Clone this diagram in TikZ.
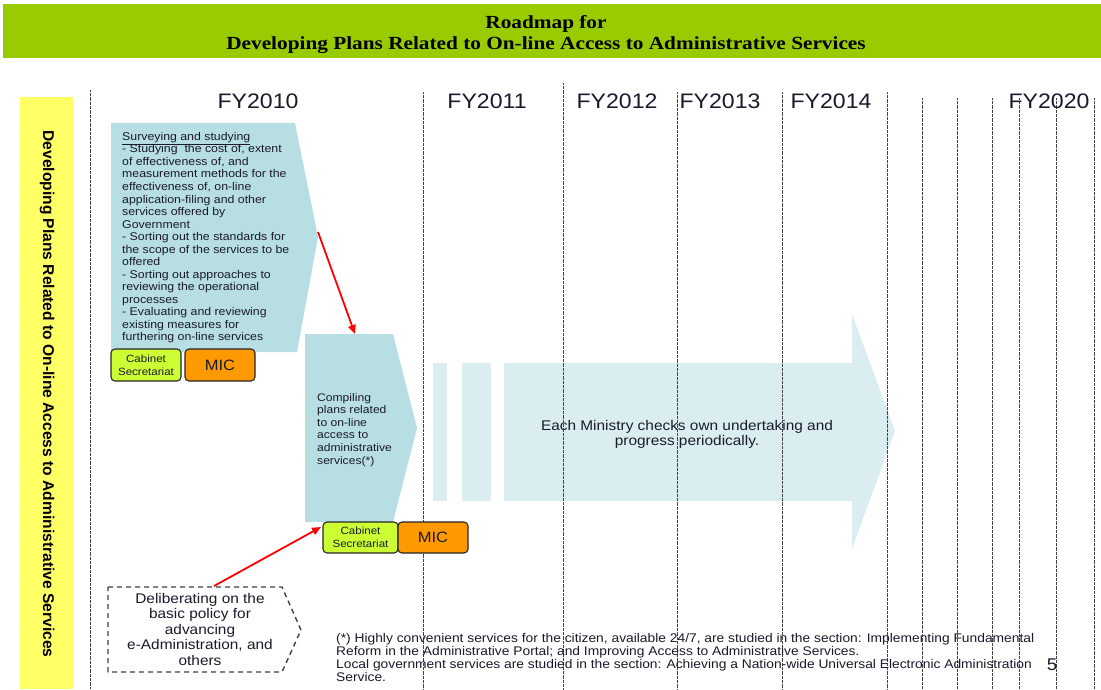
\documentclass[tikz,border=0pt]{standalone}
\usepackage{fontspec}
\setmainfont[FakeStretch=1.1]{Liberation Sans}
\newfontfamily\titlefont[FakeStretch=1.15]{Liberation Serif}
\newfontfamily\sidefont{Liberation Sans}
\usetikzlibrary{arrows.meta}
\definecolor{banner}{HTML}{99CC00}
\definecolor{sidebar}{HTML}{FFFF66}
\definecolor{boxblue}{HTML}{B7DEE3}
\definecolor{paleblue}{HTML}{DAEEF2}
\definecolor{cabgreen}{HTML}{CCFF33}
\definecolor{micorange}{HTML}{FF9900}
\definecolor{txt}{HTML}{1A1A2A}
\definecolor{vlinecol}{HTML}{444444}
\tikzset{
  vline/.style={draw=vlinecol, line width=0.9pt, dash pattern=on 0.7pt off 0.6pt},
  bluebox/.style={fill=boxblue, draw=none},
  palebox/.style={fill=paleblue, draw=none},
  agency/.style={draw=black!85, line width=1.1pt, rounded corners=4pt},
  redarrow/.style={draw=red, line width=1.8pt, -{Triangle[length=9pt,width=7.5pt]}},
  yearlbl/.style={anchor=base, font=\fontsize{21}{24}\selectfont},
}
\begin{document}
\begin{tikzpicture}[x=1pt,y=-1pt, every node/.style={inner sep=0pt, text=txt}]
\useasboundingbox (0,0) rectangle (1101,689);
% banner
\fill[banner] (3,4) rectangle (1101,58);
\node[anchor=base, font=\titlefont\bfseries\fontsize{18.5}{21}\selectfont, text=black] (title1) at (546,28.7) {Roadmap for};
\node[anchor=base, font=\titlefont\bfseries\fontsize{18.5}{21}\selectfont, text=black] (title2) at (546,49.7) {Developing Plans Related to On-line Access to Administrative Services};
% side bar
\fill[sidebar] (20,97) rectangle (73,689);
\node[rotate=-90, font=\sidefont\bfseries\fontsize{15.6}{18}\selectfont, text=black] (side) at (47,394) {Developing Plans Related to On-line Access to Administrative Services};
% pale arrow and bars (behind the lines)
\path[palebox] (433,363) rectangle (447,501);
\path[palebox] (462,363) rectangle (491,501);
\path[palebox] (504,363) -- (852,363) -- (852,314) -- (895,431) -- (852,549) -- (852,501) -- (504,501) -- cycle;
\node[align=center, anchor=north, font=\fontsize{14}{15.5}\selectfont] (ministry) at (687,419.8) {Each Ministry checks own undertaking and\\progress periodically.};
% vertical dotted lines
\foreach \x/\t in {90/90, 423/92, 563/83, 677/92, 782/92, 887/92, 922/98, 957/98, 992/98, 1019/98, 1056/98, 1094/98}
  \draw[vline] (\x,\t) -- (\x,689);
% years
\node[yearlbl] (fy10) at (258,108) {FY2010};
\node[yearlbl] (fy11) at (487,108) {FY2011};
\node[yearlbl] (fy12) at (617,108) {FY2012};
\node[yearlbl] (fy13) at (720,108) {FY2013};
\node[yearlbl] (fy14) at (831,108) {FY2014};
\node[yearlbl] (fy20) at (1049,108) {FY2020};
% surveying box
\path[bluebox] (111,123) -- (295,123) -- (318,237) -- (297,352) -- (111,352) -- cycle;
\node[anchor=north west, align=left, font=\fontsize{11.2}{12.54}\selectfont] (survey) at (122,132) {\underline{Surveying and studying}\\
- Studying\ \ the cost of, extent\\
of effectiveness of, and\\
measurement methods for the\\
effectiveness of, on-line\\
application-filing and other\\
services offered by\\
Government\\
- Sorting out the standards for\\
the scope of the services to be\\
offered\\
- Sorting out approaches to\\
reviewing the operational\\
processes\\
- Evaluating and reviewing\\
existing measures for\\
furthering on-line services};
\draw[agency, fill=cabgreen] (111,349) rectangle (181,381);
\node[align=center, font=\fontsize{10.5}{13}\selectfont] (cab1) at (146,365.5) {Cabinet\\Secretariat};
\draw[agency, fill=micorange] (185,349) rectangle (255,381);
\node[font=\fontsize{15}{17}\selectfont] (mic1) at (220,365.5) {MIC};
% compiling box
\path[bluebox] (305,334) -- (393,334) -- (417,428) -- (393,522) -- (305,522) -- cycle;
\node[anchor=north west, align=left, font=\fontsize{11}{12.6}\selectfont] (compile) at (317,393) {Compiling\\plans related\\to on-line\\access to\\administrative\\services(*)};
\draw[agency, fill=cabgreen] (323,522) rectangle (398,553);
\node[align=center, font=\fontsize{10.5}{13}\selectfont] (cab2) at (360.5,537.5) {Cabinet\\Secretariat};
\draw[agency, fill=micorange] (398,522) rectangle (468,553);
\node[font=\fontsize{15}{17}\selectfont] (mic2) at (433,537.5) {MIC};
% dashed box
\draw[draw=black!75, line width=1.4pt, dash pattern=on 5pt off 4pt, fill=white] (108,587) -- (282,587) -- (301,630) -- (282,672) -- (108,672) -- cycle;
\node[align=center, anchor=north, font=\fontsize{14}{15.5}\selectfont] (delib) at (200,592.8) {Deliberating on the\\basic policy for\\advancing\\e-Administration, and\\others};
% red arrows
\coordinate (surveyTip) at (318,232);
\coordinate (compileTop) at (355,334);
\coordinate (delibTop) at (214,586);
\coordinate (cabTwoWest) at (321,527);
\draw[redarrow] (surveyTip) -- (compileTop);
\draw[redarrow] (delibTop) -- (cabTwoWest);
% footnote
\node[anchor=north west, align=left, font=\fontsize{12.55}{13.1}\selectfont] (foot) at (336,633) {(*) Highly convenient services for the citizen, available 24/7, are studied in the section: Implementing Fundamental\\
Reform in the Administrative Portal; and Improving Access to Administrative Services.\\
Local government services are studied in the section: Achieving a Nation-wide Universal Electronic Administration\\
Service.};
\node[anchor=base, font=\fontsize{17}{19}\selectfont] (pagenum) at (1052,670) {5};
\end{tikzpicture}
\end{document}
